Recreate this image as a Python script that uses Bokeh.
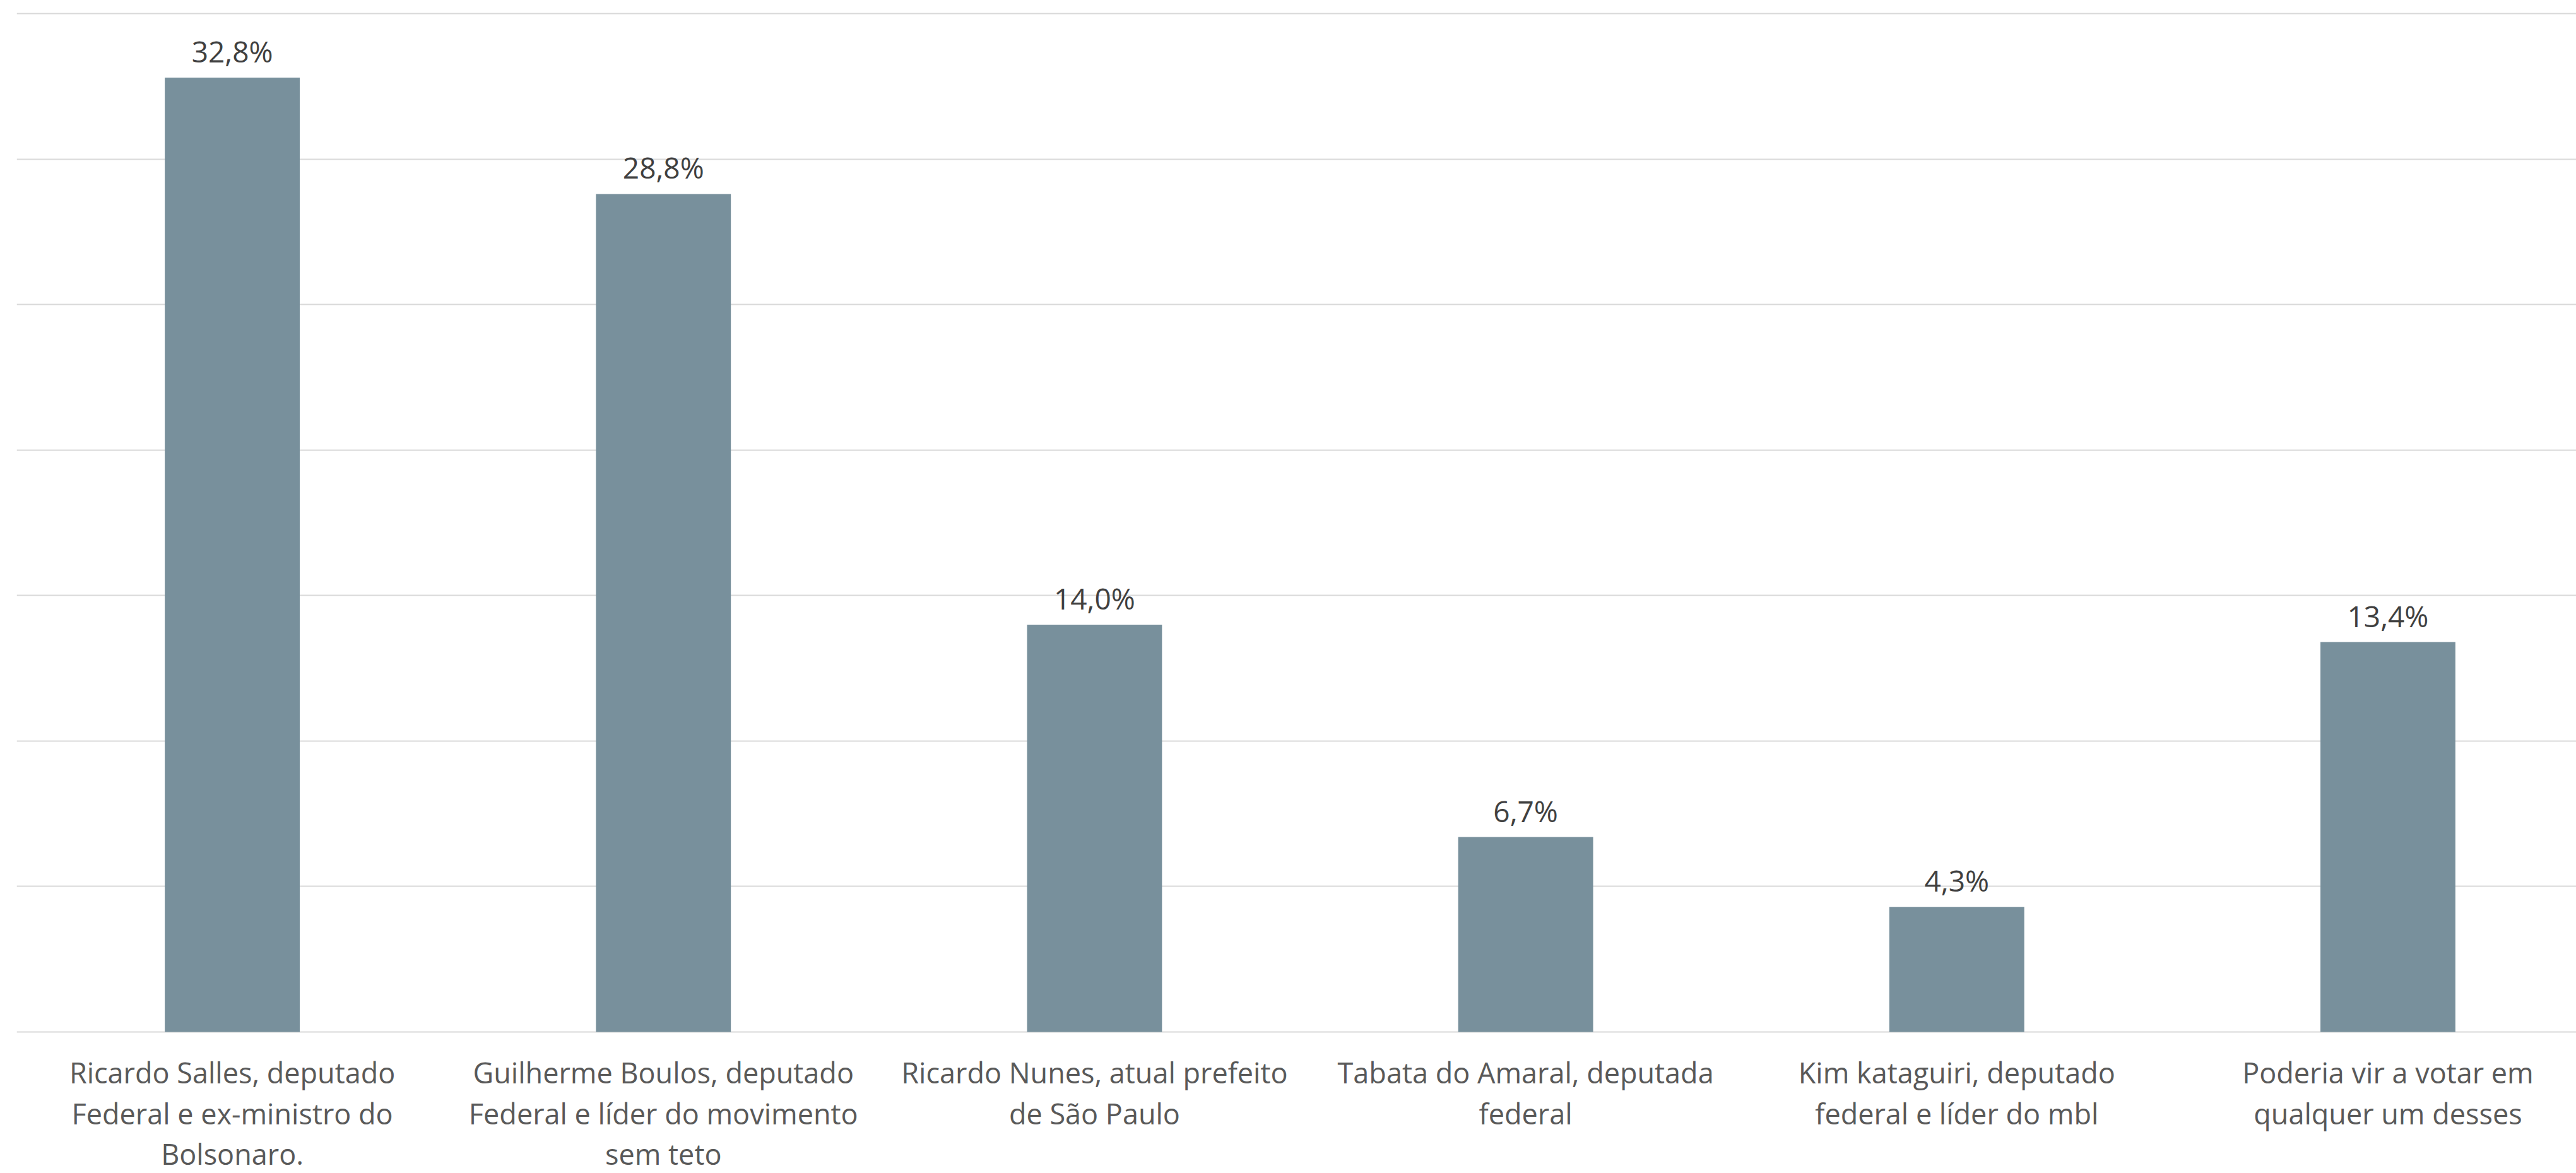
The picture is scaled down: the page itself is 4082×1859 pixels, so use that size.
from bokeh.plotting import figure
from bokeh.models import ColumnDataSource, Range1d, FixedTicker
from bokeh.core.properties import value
from bokeh.embed import file_html
from bokeh.resources import INLINE

categories = [
    "Ricardo Salles, deputado\nFederal e ex-ministro do\nBolsonaro.",
    "Guilherme Boulos, deputado\nFederal e líder do movimento\nsem teto",
    "Ricardo Nunes, atual prefeito\nde São Paulo",
    "Tabata do Amaral, deputada\nfederal",
    "Kim kataguiri, deputado\nfederal e líder do mbl",
    "Poderia vir a votar em\nqualquer um desses",
]
values = [32.8, 28.8, 14.0, 6.7, 4.3, 13.4]
y_ticks = [0, 5, 10, 15, 20, 25, 30, 35]

positions = list(range(len(categories)))
labels = [f"{v:.1f}%".replace(".", ",") for v in values]

source = ColumnDataSource(data=dict(x=positions, top=values, label=labels))
cat_source = ColumnDataSource(data=dict(x=positions, y=[0] * len(positions), cat=categories))

FONT = "Open Sans"

p = figure(
    width=4082, height=1859,
    output_backend="svg", toolbar_location=None,
    x_range=Range1d(-0.5, 5.437), y_range=Range1d(-4.858, 35.455),
    min_border_left=26, min_border_right=0, min_border_top=0, min_border_bottom=0,
)
p.outline_line_color = None
p.background_fill_color = "white"
p.border_fill_color = "white"

p.ygrid.ticker = FixedTicker(ticks=y_ticks)
p.ygrid.grid_line_color = "#D9D9D9"
p.ygrid.grid_line_width = 2
p.xgrid.grid_line_color = None
p.xaxis.visible = False
p.yaxis.visible = False

p.vbar(x="x", top="top", bottom=0, width=0.313, source=source,
       fill_color="#78909C", line_color=None)

p.text(x="x", y="top", text="label", source=source,
       text_font=value(FONT), text_font_size="46px", text_color="#404040",
       text_align="center", text_baseline="alphabetic", y_offset=-42)

p.text(x="x", y="y", text="cat", source=cat_source,
       text_font=value(FONT), text_font_size="45px", text_color="#595959",
       text_align="center", text_baseline="top", text_line_height=1.05,
       y_offset=34)

open("out.html", "w").write(file_html(p, INLINE))
